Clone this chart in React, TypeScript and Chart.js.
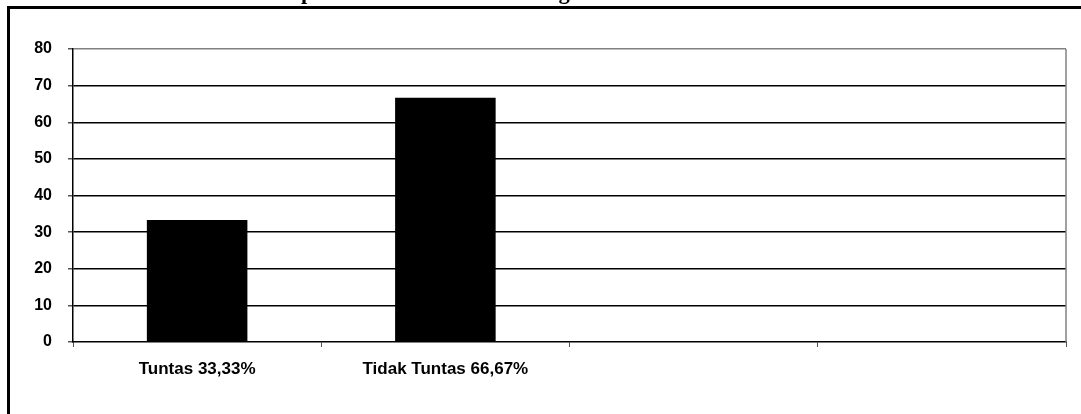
import React, { useEffect, useRef } from "react";
import { Chart, registerables } from "chart.js";

Chart.register(...registerables);

const titleText = "Rekapitulasi Siswa Kelas SD Negeri Hasil Pretest Siklus I";
const categories = ["Tuntas 33,33%", "Tidak Tuntas 66,67%", "", ""];
const values = [33.33, 66.67, null, null];
const yTicks = [0, 10, 20, 30, 40, 50, 60, 70, 80];

const framePlugin = {
  id: "framePlugin",
  beforeDraw(chart: any) {
    const ctx = chart.ctx;
    ctx.save();
    ctx.fillStyle = "#fff";
    ctx.fillRect(0, 0, chart.width, chart.height);
    // outer frame
    ctx.strokeStyle = "#000";
    ctx.lineWidth = 3;
    ctx.beginPath();
    ctx.moveTo(8.5, chart.height + 10);
    ctx.lineTo(8.5, 7.5);
    ctx.lineTo(chart.width + 10, 7.5);
    ctx.stroke();
    // title (mostly cropped above)
    ctx.fillStyle = "#000";
    ctx.font = "bold 22.5px 'Liberation Serif', 'Times New Roman', serif";
    ctx.textAlign = "center";
    ctx.textBaseline = "alphabetic";
    ctx.fillText(titleText, 527, -1);
    ctx.restore();
  },
  beforeDatasetsDraw(chart: any) {
    const { ctx, chartArea } = chart;
    ctx.save();
    ctx.strokeStyle = "#808080";
    ctx.lineWidth = 1.5;
    ctx.beginPath();
    ctx.moveTo(chartArea.right, chartArea.top);
    ctx.lineTo(chartArea.right, chartArea.bottom);
    ctx.stroke();
    ctx.restore();
  },
};

export default function App() {
  const ref = useRef<HTMLCanvasElement>(null);
  useEffect(() => {
    if (!ref.current) return;
    const chart = new Chart(ref.current, {
      type: "bar",
      data: {
        labels: categories,
        datasets: [
          {
            data: values as any,
            backgroundColor: "#000",
            borderWidth: 0,
            categoryPercentage: 1,
            barPercentage: 0.405,
          },
        ],
      },
      options: {
        animation: false,
        responsive: false,
        maintainAspectRatio: false,
        layout: { padding: { top: 49, right: 15, left: 0, bottom: 0 } },
        plugins: {
          legend: { display: false },
          tooltip: { enabled: false },
          title: { display: false },
        },
        scales: {
          x: {
            afterFit(scale: any) {
              scale.height = 72;
            },
            grid: {
              drawOnChartArea: false,
              drawTicks: true,
              tickLength: 5,
              tickColor: "#555",
              offset: true,
            },
            border: { color: "#000", width: 1.5 },
            ticks: {
              color: "#000",
              padding: 12,
              maxRotation: 0,
              autoSkip: false,
              font: { family: "'Liberation Sans', Arial, sans-serif", weight: "bold", size: 17 },
            },
          },
          y: {
            min: 0,
            max: 80,
            afterFit(scale: any) {
              scale.width = 73;
            },
            afterBuildTicks(scale: any) {
              scale.ticks = yTicks.map((v) => ({ value: v }));
            },
            grid: {
              color: (c: any) => (c.tick && c.tick.value === 80 ? "#808080" : c.tick && c.tick.value === 0 ? "rgba(0,0,0,0)" : "#000"),
              lineWidth: 1.5,
              tickLength: 5,
              tickColor: "#555",
            },
            border: { color: "#000", width: 1.5 },
            ticks: {
              color: "#000",
              padding: 16,
              font: { family: "'Liberation Sans', Arial, sans-serif", weight: "bold", size: 16 },
            },
          },
        },
      },
      plugins: [framePlugin],
    });
    return () => chart.destroy();
  }, []);
  return (
    <div style={{ position: "fixed", left: 0, top: 0, width: 1081, height: 414, overflow: "hidden", background: "#fff" }}>
      <canvas ref={ref} width={1081} height={414} style={{ display: "block", position: "absolute", left: 0, top: 0 }} />
    </div>
  );
}
